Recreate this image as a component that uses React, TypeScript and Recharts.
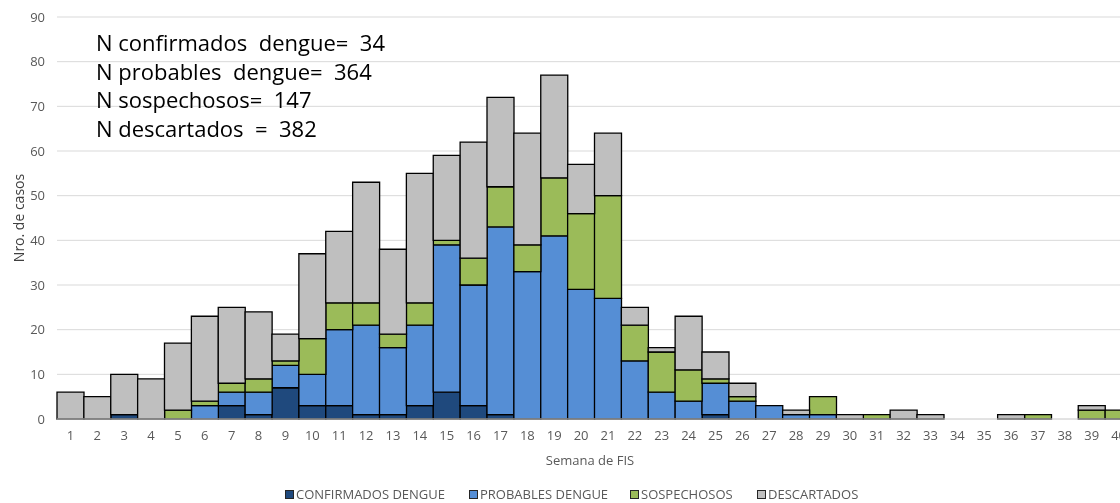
import React from 'react';
import { BarChart, Bar, XAxis, YAxis, CartesianGrid, Legend, Customized } from 'recharts';

const weeks = ['1','2','3','4','5','6','7','8','9','10','11','12','13','14','15','16','17','18','19','20','21','22','23','24','25','26','27','28','29','30','31','32','33','34','35','36','37','38','39','40'];
const confirmados = [0,0,1,0,0,0,3,1,7,3, 3,1,1,3,6,3,1,0,0,0, 0,0,0,0,1,0,0,0,0,0, 0,0,0,0,0,0,0,0,0,0];
const probables = [0,0,0,0,0,3,3,5,5,7, 17,20,15,18,33,27,42,33,41,29, 27,13,6,4,7,4,3,1,1,0, 0,0,0,0,0,0,0,0,0,0];
const sospechosos = [0,0,0,0,2,1,2,3,1,8, 6,5,3,5,1,6,9,6,13,17, 23,8,9,7,1,1,0,0,4,0, 1,0,0,0,0,0,1,0,2,2];
const descartados = [6,5,9,9,15,19,17,15,6,19, 16,27,19,29,19,26,20,25,23,11, 14,4,1,12,6,3,0,1,0,1, 0,2,1,0,0,1,0,0,1,0];
const yTicks = [0,10,20,30,40,50,60,70,80,90];
const notes = ['N confirmados  dengue=  34', 'N probables  dengue=  364', 'N sospechosos=  147', 'N descartados  =  382'];

const series = [
  { key: 'conf', name: 'CONFIRMADOS DENGUE', color: '#1F497D' },
  { key: 'prob', name: 'PROBABLES DENGUE', color: '#558ED5' },
  { key: 'sosp', name: 'SOSPECHOSOS', color: '#9BBB59' },
  { key: 'desc', name: 'DESCARTADOS', color: '#BFBFBF' },
];
const legendOffsets = [0, 184, 345, 472];

const data = weeks.map((w, i) => ({
  week: w,
  conf: confirmados[i],
  prob: probables[i],
  sosp: sospechosos[i],
  desc: descartados[i],
}));

const FONT = '"Open Sans", "Noto Sans", sans-serif';

const LegendContent = () => (
  <div style={{ position: 'relative', width: 600, height: 16, fontFamily: FONT, fontSize: 13, color: '#595959', lineHeight: '16px', whiteSpace: 'nowrap' }}>
    {series.map((s, i) => (
      <div key={s.key} style={{ position: 'absolute', left: legendOffsets[i], top: 0, display: 'flex', alignItems: 'center' }}>
        <span style={{ display: 'inline-block', width: 7, height: 7, background: s.color, border: '1px solid #262626', marginRight: 2 }} />
        <span>{s.name}</span>
      </div>
    ))}
  </div>
);

const Notes = () => (
  <g>
    {notes.map((t, i) => (
      <text key={i} x={88} y={43 + i * 28.7} fontFamily={FONT} fontSize={22} fill="#000" style={{ whiteSpace: 'pre' }}>
        {t}
      </text>
    ))}
  </g>
);

export default function App() {
  return (
    <div style={{ position: 'fixed', top: 8, left: 8, width: 1112, height: 495, overflow: 'hidden' }}>
      <BarChart
        width={1124}
        height={495}
        data={data}
        margin={{ top: 9, right: 0, left: 0, bottom: 54 }}
        barCategoryGap={0}
        barGap={0}
      >
        <CartesianGrid vertical={false} stroke="#D9D9D9" strokeWidth={1} />
        <XAxis
          dataKey="week"
          interval={0}
          tickLine={false}
          axisLine={{ stroke: '#D9D9D9' }}
          height={30}
          tickMargin={6}
          tick={{ fill: '#595959', fontSize: 13, fontFamily: FONT }}
          label={(props: any) => {
            const vb = props.viewBox || {};
            return (
              <text x={582} y={457} textAnchor="middle" fontFamily={FONT} fontSize={13} fill="#595959">
                Semana de FIS
              </text>
            );
          }}
        />
        <YAxis
          width={49}
          domain={[0, 90]}
          ticks={yTicks}
          tickLine={false}
          axisLine={false}
          tickMargin={6}
          tick={{ fill: '#595959', fontSize: 13, fontFamily: FONT }}
          label={(props: any) => {
            const vb = props.viewBox || {};
            const cy = vb.y + vb.height / 2;
            return (
              <text x={10} y={cy} textAnchor="middle" dominantBaseline="central" transform={`rotate(-90 10 ${cy})`} fontFamily={FONT} fontSize={14} fill="#404040">
                Nro. de casos
              </text>
            );
          }}
        />
        <Legend
          layout="horizontal"
          verticalAlign="middle"
          align="center"
          content={<LegendContent />}
          wrapperStyle={{ top: 478, left: 277, width: 600, height: 16 }}
        />
        {series.map((s) => (
          <Bar
            key={s.key}
            dataKey={s.key}
            name={s.name}
            stackId="a"
            fill={s.color}
            stroke="#000"
            strokeWidth={1.3}
            isAnimationActive={false}
          />
        ))}
        <Customized component={Notes} />
      </BarChart>
    </div>
  );
}
